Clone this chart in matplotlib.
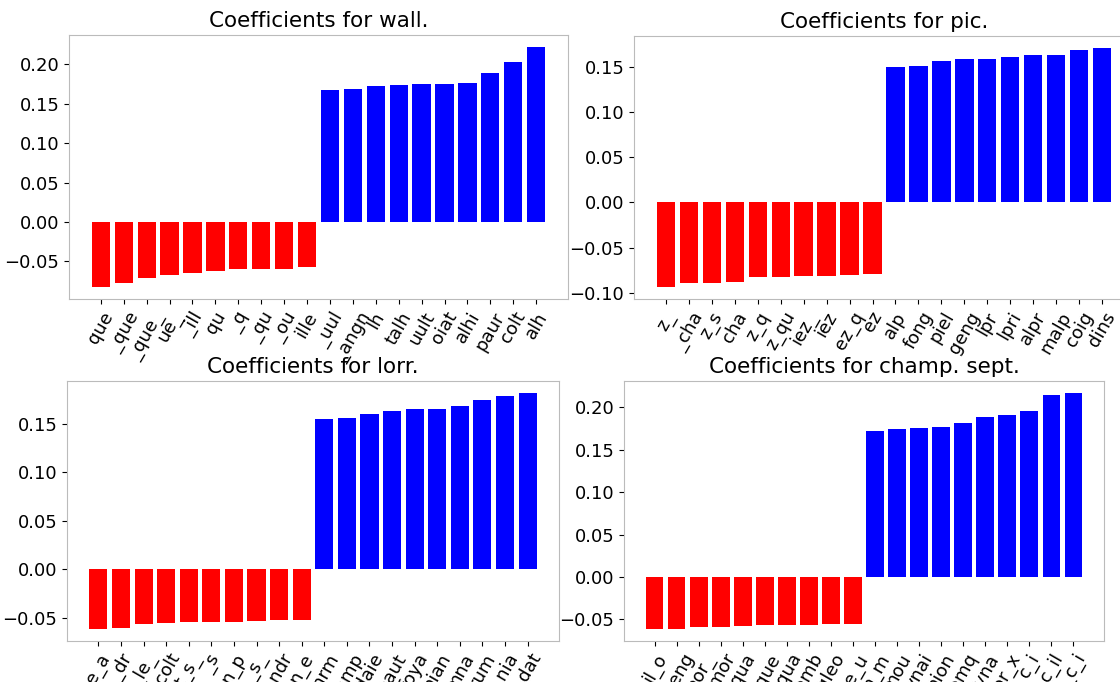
import matplotlib
matplotlib.use('Agg')
import matplotlib.pyplot as plt

# --- data ---
wall_labels = ['que', '_que', '_que_', 'ue_', '_ill', 'qu', '_q', '_qu', '_ou', 'ille',
               '_uul', '_angn', 'lh', 'talh', 'uult', 'oiat', 'alhi', 'paur', 'colt', 'alh']
wall_values = [-0.0825, -0.0774, -0.0711, -0.0672, -0.0647, -0.0622, -0.0598, -0.0594, -0.0592, -0.0571,
               0.168, 0.169, 0.173, 0.174, 0.175, 0.175, 0.176, 0.189, 0.203, 0.222]

pic_labels = ['z_', '_cha', 'z_s', 'cha', 'z_q', 'z_qu', 'iez_', 'iez', 'ez_q', 'ez',
              'alp', 'fong', 'piel', 'geng', 'lpr', 'lpri', 'alpr', 'malp', 'coig', 'dins']
pic_values = [-0.0936, -0.0888, -0.0886, -0.0881, -0.0825, -0.0824, -0.0814, -0.0813, -0.0800, -0.0796,
              0.150, 0.1503, 0.1566, 0.1581, 0.1584, 0.1610, 0.1632, 0.1633, 0.1680, 0.1706]

lorr_labels = ['e_a', '_dr', '_le_', '_colt', 't_s_', '_s', 'n_p', '_s_', '_ndr', 'n_e',
               'inrm', 'camp', 'daie', 'paut', 'foya', 'nian', 'mna', 'rum', '_nia', '_dat']
lorr_values = [-0.0620, -0.0612, -0.0565, -0.0555, -0.0548, -0.0547, -0.0545, -0.0538, -0.0530, -0.0528,
               0.155, 0.156, 0.160, 0.163, 0.165, 0.165, 0.168, 0.175, 0.179, 0.182]

champ_labels = ['il_o', '_geng', 'mor_', '_mor', 'qua', 'nque', '_qua', 'emb', 'gleo', 'ne_u',
                'm_m', 'mou', 'ynai', 'nion', 'omq', 'lyna', 'or_x', 'c_i', 'c_il', '_c_i']
champ_values = [-0.0615, -0.0612, -0.0590, -0.0588, -0.0578, -0.0568, -0.0566, -0.0563, -0.0555, -0.0552,
                0.172, 0.174, 0.175, 0.177, 0.182, 0.188, 0.191, 0.196, 0.214, 0.217]

titles = ['wall.', 'pic.', 'lorr.', 'champ. sept.']

# axes boxes in pixels: left, top, right, bottom
boxes = [(69, 35, 568, 299), (634, 36, 1134, 299),
         (67, 381, 559, 641), (624, 381, 1104, 641)]

W, H = 1120, 682
fig = plt.figure(figsize=(W / 100, H / 100), dpi=100)

panels = [(wall_labels, wall_values), (pic_labels, pic_values),
          (lorr_labels, lorr_values), (champ_labels, champ_values)]

for (labels, values), title, (l, t, r, b) in zip(panels, titles, boxes):
    ax = fig.add_axes([l / W, 1 - b / H, (r - l) / W, (b - t) / H])
    colors = ['red' if v < 0 else 'blue' for v in values]
    ax.bar(range(len(values)), values, color=colors)
    ax.set_xticks(range(len(values)))
    ax.set_xticklabels(labels, rotation=60, fontsize=13)
    ax.tick_params(axis='y', labelsize=13)
    ax.set_title(f'Coefficients for {title}', fontsize=15.5)
    for s in ax.spines.values():
        s.set_color('#bbbbbb')

fig.savefig('out.png', dpi=100)
